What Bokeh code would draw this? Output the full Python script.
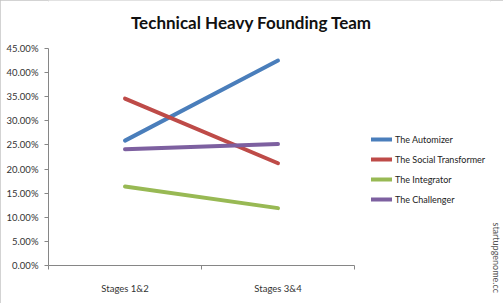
import math
from bokeh.plotting import figure
from bokeh.models import (Range1d, FixedTicker, PrintfTickFormatter, Legend, LegendItem,
                          Label, LinearAxis, Title)
from bokeh.embed import file_html
from bokeh.resources import INLINE

# ---- data ----
title_text = "Technical Heavy Founding Team"
stages = ["Stages 1&2", "Stages 3&4"]
series_names = ["The Automizer", "The Social Transformer", "The Integrator", "The Challenger"]
automizer = [25.9, 42.5]
social_transformer = [34.6, 21.2]
integrator = [16.4, 11.9]
challenger = [24.1, 25.2]
y_ticks = [0, 5, 10, 15, 20, 25, 30, 35, 40, 45]
source_note = "startupgenome.cc"

colors = ["#4A7EBB", "#BE4B48", "#98B954", "#7D60A0"]
FONT = "Lato"

W, H = 503, 303
left, bottom, right = 48, 38, 13
frame_w = W - left - right
frame_h = H - bottom
px_per_unit_y = 217 / 45.0
px_per_cat = 153.0

p = figure(width=W, height=H, output_backend="svg", toolbar_location=None,
           x_range=Range1d(0, frame_w / px_per_cat), y_range=Range1d(0, frame_h / px_per_unit_y),
           x_axis_type=None, y_axis_type=None,
           min_border_left=left, min_border_bottom=bottom, min_border_top=0, min_border_right=right)
p.outline_line_color = None
p.xgrid.visible = False
p.ygrid.visible = False
p.background_fill_color = "white"
p.border_fill_color = "white"
p.styles = {"outline": "2px solid #c4c4c4", "outline-offset": "-2px"}

axis_color = "#868686"
label_color = "#333333"

yaxis = LinearAxis(ticker=FixedTicker(ticks=y_ticks, minor_ticks=[]),
                   formatter=PrintfTickFormatter(format="%.2f%%"),
                   bounds=(0, 45))
yaxis.axis_line_color = axis_color
yaxis.major_tick_line_color = axis_color
yaxis.major_tick_out = 4
yaxis.major_tick_in = 0
yaxis.minor_tick_line_color = None
yaxis.major_label_text_font = FONT
yaxis.major_label_text_font_size = "9.5px"
yaxis.major_label_text_color = label_color
yaxis.major_label_standoff = 6
p.add_layout(yaxis, "left")

cat_x = [i + 0.5 for i in range(len(stages))]
bounds_x = [float(i) for i in range(len(stages) + 1)]
xaxis = LinearAxis(ticker=FixedTicker(ticks=cat_x, minor_ticks=bounds_x),
                   bounds=(0, len(stages)))
xaxis.major_label_overrides = {c: s for c, s in zip(cat_x, stages)}
xaxis.axis_line_color = axis_color
xaxis.major_tick_line_color = None
xaxis.major_tick_out = 0
xaxis.major_tick_in = 0
xaxis.minor_tick_line_color = axis_color
xaxis.minor_tick_out = 4
xaxis.minor_tick_in = 0
xaxis.major_label_text_font = FONT
xaxis.major_label_text_font_size = "9.5px"
xaxis.major_label_text_color = label_color
xaxis.major_label_standoff = 13
p.add_layout(xaxis, "below")

items = []
for name, vals, c in zip(series_names, [automizer, social_transformer, integrator, challenger], colors):
    r = p.line(cat_x, vals, line_color=c, line_width=4, line_cap="round")
    items.append(LegendItem(label=name, renderers=[r]))

legend = Legend(items=items, location=(323, 60))
legend.glyph_width = 21
legend.glyph_height = 12
legend.label_height = 12
legend.label_standoff = 3
legend.spacing = 8
legend.padding = 0
legend.margin = 0
legend.border_line_color = None
legend.background_fill_alpha = 0
legend.label_text_font = FONT
legend.label_text_font_size = "9px"
legend.label_text_color = "#222222"
p.add_layout(legend, "center")

# title (placed in data space)
p.add_layout(Label(x=(251 - left) / px_per_cat, y=(frame_h - 22) / px_per_unit_y,
                   text=title_text, text_align="center", text_baseline="middle",
                   text_font=FONT, text_font_style="bold", text_font_size="17px",
                   text_color="#111111"))

# source note, vertical on the right side
note = Title(text=source_note, align="left", offset=222, standoff=0,
             text_font=FONT, text_font_size="9px", text_font_style="normal",
             text_color="#555555")
p.add_layout(note, "right")

open("out.html", "w").write(file_html(p, INLINE))
